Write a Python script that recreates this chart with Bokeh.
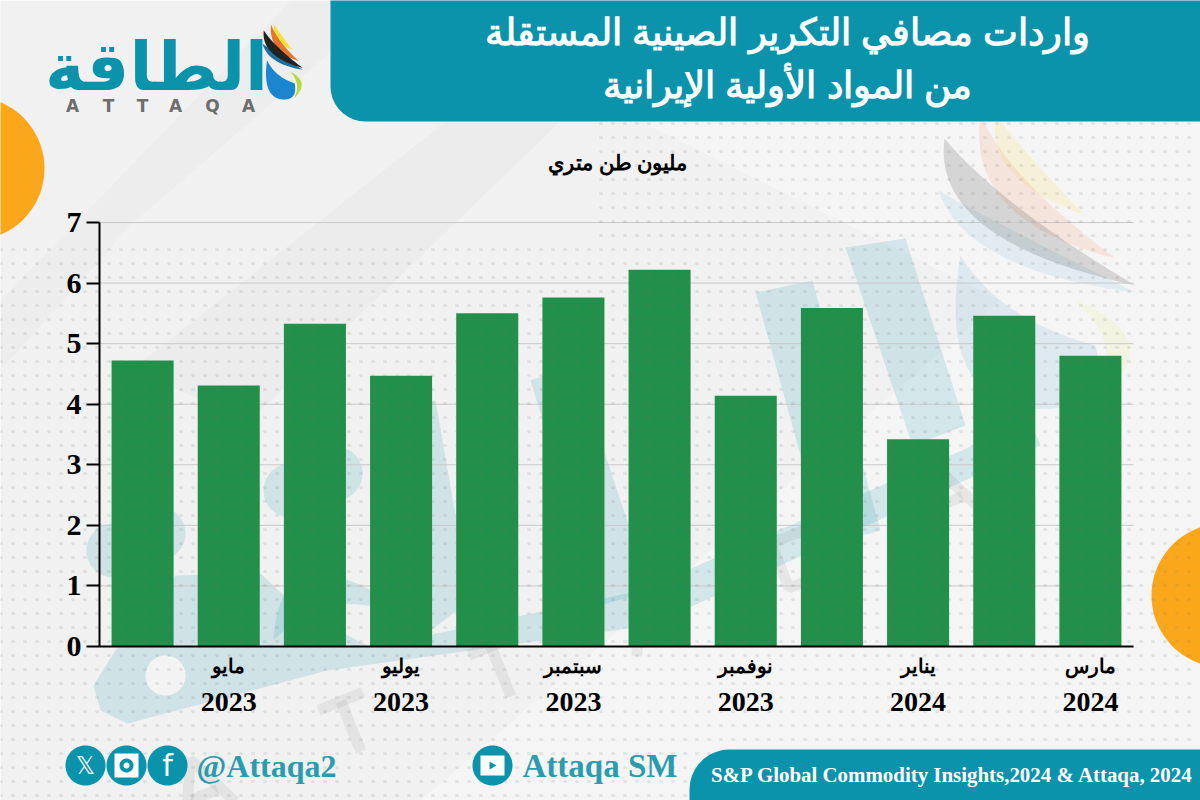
import math
from bokeh.plotting import figure
from bokeh.models import Range1d, LinearAxis, FixedTicker
from bokeh.core.properties import value
from bokeh.embed import file_html
from bokeh.resources import INLINE

# ---- data
months = ["أبريل", "مايو", "يونيو", "يوليو", "أغسطس", "سبتمبر", "أكتوبر", "نوفمبر", "ديسمبر", "يناير", "فبراير", "مارس"]
years = ["2023", "2023", "2023", "2023", "2023", "2023", "2023", "2023", "2023", "2024", "2024", "2024"]
imports_mt = [4.72, 4.31, 5.33, 4.47, 5.50, 5.76, 6.22, 4.14, 5.59, 3.42, 5.46, 4.80]
y_ticks = [0, 1, 2, 3, 4, 5, 6, 7]
title_lines = ["واردات مصافي التكرير الصينية المستقلة", "من المواد الأولية الإيرانية"]
unit_label = "مليون طن متري"
source_text = "S&P Global Commodity Insights,2024 & Attaqa, 2024"

TEAL = "#0a93ab"
GREEN = "#228f4b"
ORANGE = "#fba71b"
BG = "#f1f1f1"
WM = "#4aa8c0"
OFF = 0
W, H = 1200, 800

PL, PR, PT, PB = 99, 1133, 222, 646
ux = (PR - PL) / 12
uy = (PB - PT) / 7
x_rng = Range1d(-0.5 - (PL - OFF) / ux, 11.5 + (OFF + W - PR) / ux)
y_rng = Range1d(-(OFF + H - PB) / uy, 7 + (PT - OFF) / uy)

p = figure(width=W, height=H, output_backend="svg", toolbar_location=None,
           x_range=x_rng, y_range=y_rng, x_axis_type=None, y_axis_type=None, min_border=0,
           styles={"position": "absolute", "left": "0px", "top": "0px"})
p.outline_line_color = None
p.background_fill_color = BG
p.border_fill_color = BG
p.grid.visible = False
p.extra_x_ranges["px"] = Range1d(OFF, OFF + W)
p.extra_y_ranges["px"] = Range1d(OFF + H, OFF)
PX = dict(x_range_name="px", y_range_name="px")


def poly(pts, fill, alpha=1.0):
    p.patch([a for a, _ in pts], [b for _, b in pts], fill_color=fill, fill_alpha=alpha, line_color=None, **PX)


def circle_pts(cx, cy, r, n=72):
    return [(cx + r * math.cos(2 * math.pi * i / n), cy + r * math.sin(2 * math.pi * i / n)) for i in range(n)]


def label(x, y, text, size, color="#000000", font="Liberation Serif", style="bold", align="center", alpha=1.0):
    p.text([x], [y], text=[text], text_font=value(font), text_font_size=value(f"{size}px"), text_font_style=style,
           text_color=color, text_align=align, text_baseline="middle", text_alpha=alpha, **PX)


def bez(a, b, c, n=24):
    return [((1 - t) ** 2 * a[0] + 2 * t * (1 - t) * b[0] + t * t * c[0],
             (1 - t) ** 2 * a[1] + 2 * t * (1 - t) * b[1] + t * t * c[1])
            for t in [i / n for i in range(n + 1)]]


def crescent(a, b, c, d):
    return bez(a, b, c) + bez(c, d, a)[1:]


# Background bands
poly([(0, 300), (290, 0), (390, 0), (130, 225), (0, 370)], "#000000", 0.015)
poly([(130, 370), (445, 121), (560, 121), (250, 420)], "#000000", 0.02)
poly([(640, 121), (1200, 121), (1200, 800), (420, 800), (1000, 300)], "#ffffff", 0.3)

# Orange circles
poly(circle_pts(-28, 168, 72), ORANGE)
poly(circle_pts(1223, 595, 72), ORANGE)


def logo(tx, a, colors):
    grey, orange, yellow, blue, drop, lime = colors
    poly([tx(q) for q in crescent((938, 190), (965, 270), (1135, 292), (1000, 225))], blue, a)
    poly([tx(q) for q in bez((960, 255), (1000, 320), (1095, 345)) + bez((1095, 345), (1110, 412), (1035, 408)) + bez((1035, 408), (935, 400), (960, 255))], drop, a)
    poly([tx(q) for q in crescent((1075, 300), (1175, 340), (1090, 405), (1130, 350))], lime, a)
    poly([tx(q) for q in crescent((995, 115), (985, 180), (1085, 215), (1040, 170))], yellow, a)
    poly([tx(q) for q in crescent((980, 115), (965, 220), (1115, 258), (1010, 180))], orange, a)
    poly([tx(q) for q in crescent((944, 138), (930, 240), (1135, 285), (1000, 205))], grey, a)


# Faded logo and wordmark, behind the bars
logo(lambda q: q, 0.2, ("#555555", "#f2a07a", "#f6e06a", "#8fc3dc", "#7fb5d5", "#e8ea8a"))
wm_a = 0.2
poly([(175, 575), (260, 573), (300, 610), (370, 647), (640, 590), (1030, 420), (1040, 445), (650, 625),
      (327, 670), (127, 723), (100, 710), (93, 685), (115, 650)], WM, wm_a)
poly(circle_pts(165, 675, 20), "#f3f3f3")
for s in [[(845, 247), (905, 238), (965, 425), (912, 445)],
          [(755, 292), (812, 280), (880, 530), (825, 545)],
          [(530, 380), (575, 365), (650, 590), (600, 605)],
          [(385, 400), (435, 400), (470, 600), (430, 630)]]:
    poly(s, WM, wm_a)
for cx, cy, r in [(113, 550, 27), (158, 533, 27), (290, 490, 27), (335, 473, 27)]:
    poly(circle_pts(cx, cy, r), WM, wm_a)
poly(crescent((273, 640), (280, 510), (437, 635), (340, 570)), WM, wm_a)

# ATTAQA watermark letters, stroked
LETTERS = {
    "A": [[(-26, 28), (0, -28), (26, 28)], [(-14, 10), (14, 10)]],
    "T": [[(-24, -26), (24, -26)], [(0, -26), (0, 28)]],
    "Q": [[(-22, -24), (22, -24), (22, 24), (-22, 24), (-22, -24)], [(6, 10), (28, 32)]],
}
wm_word = [("A", 200, 785), ("T", 350, 725), ("T", 500, 670), ("A", 650, 620), ("Q", 800, 557), ("A", 945, 492)]
ca, sa = math.cos(math.radians(-22)), math.sin(math.radians(-22))
lx, ly = [], []
for ch, cx, cy in wm_word:
    for stroke in LETTERS[ch]:
        lx.append([cx + u * ca - v * sa for u, v in stroke])
        ly.append([cy + u * sa + v * ca for u, v in stroke])
p.multi_line(lx, ly, line_color="#555555", line_alpha=0.09, line_width=11, **PX)

# Grid + bars
x = list(range(len(imports_mt)))
p.segment(x0=[-0.5] * len(y_ticks), x1=[11.5] * len(y_ticks), y0=y_ticks, y1=y_ticks, line_color="#c9c9c9", line_width=1)
p.vbar(x=x, top=imports_mt, width=0.72, bottom=0, fill_color=GREEN, line_color=None)

# Dots
rows = [123 + 14 * r for r in range(50)]
p.multi_line([[600 if yy < 240 else 0, 1200] for yy in rows], [[yy, yy] for yy in rows],
             line_color="#777777", line_alpha=0.14, line_width=3, line_dash="1 11", line_cap="round", **PX)

# Axes
label_idx = [i for i in x if i % 2 == 1]
yax = LinearAxis(ticker=FixedTicker(ticks=y_ticks), fixed_location=-0.5, bounds=(0, 7),
                 axis_line_color="#000000", axis_line_width=2,
                 major_tick_line_color="#000000", major_tick_line_width=2, major_tick_out=13, major_tick_in=0,
                 minor_tick_line_color=None, major_label_text_font="Liberation Serif",
                 major_label_text_font_style="bold", major_label_text_font_size="30px",
                 major_label_text_color="#000000", major_label_standoff=5)
p.add_layout(yax, "left")
xax = LinearAxis(ticker=FixedTicker(ticks=label_idx), fixed_location=0, bounds=(-0.5, 11.5),
                 axis_line_color="#000000", axis_line_width=2,
                 major_tick_line_color=None, minor_tick_line_color=None,
                 major_label_overrides={i: months[i] for i in label_idx},
                 major_label_text_font="Liberation Sans", major_label_text_font_style="bold",
                 major_label_text_font_size="20px", major_label_text_color="#000000", major_label_standoff=2)
p.add_layout(xax, "below")
xax2 = LinearAxis(ticker=FixedTicker(ticks=label_idx), fixed_location=0, bounds=(-0.5, 11.5), axis_line_color=None,
                  major_tick_line_color=None, minor_tick_line_color=None,
                  major_label_overrides={i: years[i] for i in label_idx},
                  major_label_text_font="Liberation Serif", major_label_text_font_style="bold",
                  major_label_text_font_size="28px", major_label_text_color="#000000", major_label_standoff=40)
p.add_layout(xax2, "below")

# Title banner
arc1 = [(365 - 35 * math.sin(math.radians(a)), 86 + 35 * math.cos(math.radians(a))) for a in range(90, -1, -10)]
poly([(330, -10), (330, 86)] + arc1[1:] + [(1210, 121), (1210, -10)], TEAL)
# Footer banner
arc2 = [(729 - 40 * math.cos(math.radians(a)), 789 - 40 * math.sin(math.radians(a))) for a in range(0, 91, 10)]
poly([(689, 810)] + arc2 + [(1210, 749), (1210, 810)], TEAL)

label(952, 774, source_text, 20.9, color="#ffffff")
label(787, 32, title_lines[0], 36.5, color="#ffffff", font="Liberation Sans")
label(787, 85, title_lines[1], 36.5, color="#ffffff", font="Liberation Sans")
label(617, 162, unit_label, 21, font="Liberation Sans")

# Header logo
logo(lambda q: (262 + (q[0] - 938) * 0.205, 24 + (q[1] - 115) * 0.256), 1.0,
     ("#222222", "#e8732a", "#f4df3c", "#1d6f9e", "#1b86d0", "#b5d93a"))
label(156, 66, "الطاقة", 67, color=TEAL, font="DejaVu Sans")
for lx_, ch in zip([72, 108, 142, 175, 212, 248], "ATTAQA"):
    label(lx_, 105, ch, 17, color="#6d6d6d", font="DejaVu Sans")

# Social row
for cx, glyph, sz in [(85, "𝕏", 24), (167, "f", 30)]:
    poly(circle_pts(cx, 765, 20), TEAL)
    label(cx, 765, glyph, sz, color="#ffffff", font="DejaVu Sans", style="normal")
poly(circle_pts(126, 765, 20), TEAL)
poly([(114, 753), (138, 753), (138, 777), (114, 777)], "#ffffff")
poly(circle_pts(126, 765, 7), TEAL)
poly(circle_pts(126, 765, 3), "#ffffff")
poly(circle_pts(492, 765, 20), TEAL)
poly([(480, 755), (504, 755), (504, 775), (480, 775)], "#ffffff")
poly([(489, 761), (496, 765), (489, 769)], TEAL)
label(196, 765, "@Attaqa2", 32, color="#2b9cae", align="left")
label(522, 765, "Attaqa SM", 33, color="#2b9cae", align="left")

open("out.html", "w").write(file_html(p, INLINE))
